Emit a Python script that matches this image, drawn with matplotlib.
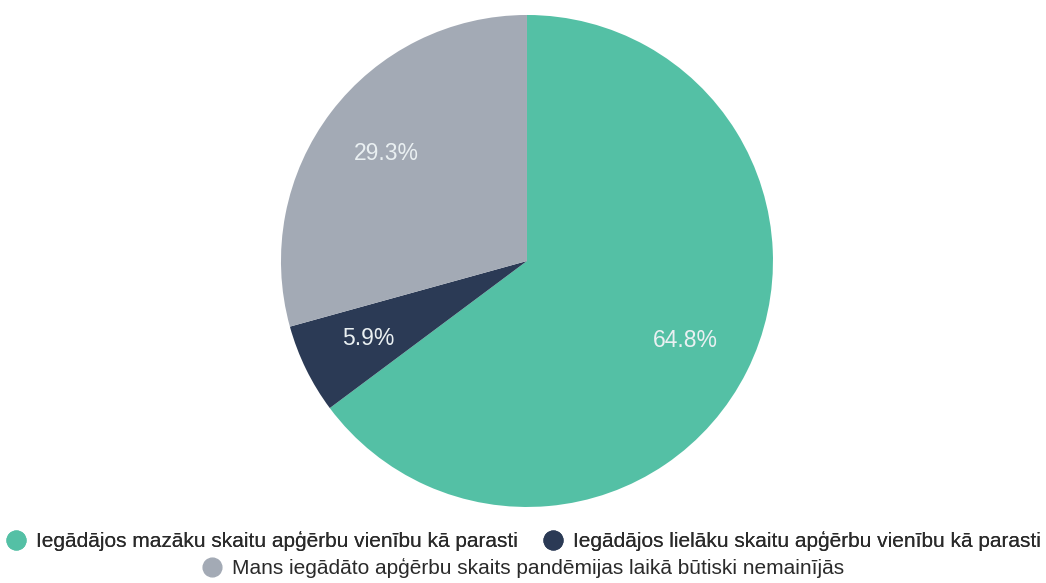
import matplotlib.pyplot as plt
from matplotlib.lines import Line2D

plt.rcParams['font.family'] = ['Liberation Sans', 'DejaVu Sans']

labels = [
    'Iegādājos mazāku skaitu apģērbu vienību kā parasti',
    'Iegādājos lielāku skaitu apģērbu vienību kā parasti',
    'Mans iegādāto apģērbu skaits pandēmijas laikā būtiski nemainījās',
]
shares = [64.8, 5.9, 29.3]
colors = ['#54c0a5', '#2b3a55', '#a3aab5']

fig = plt.figure(figsize=(10.46, 5.83), dpi=100)
ax = fig.add_axes([0.2686, 0.1304, 0.4704, 0.8439])

ax.pie(shares, colors=colors, startangle=90, counterclock=False,
       autopct='%.1f%%', pctdistance=0.72,
       textprops={'color': '#eaf0f2', 'fontsize': 16.5})
ax.set_xlim(-1, 1)
ax.set_ylim(-1, 1)
ax.set_aspect('equal')

def handle(c):
    return Line2D([], [], marker='o', linestyle='', markersize=13.5,
                  markerfacecolor=c, markeredgecolor=c)

leg1 = fig.legend([handle(colors[0]), handle(colors[1])], labels[:2],
                  loc='center', bbox_to_anchor=(0.5, 1 - 541 / 583), ncol=2,
                  frameon=False, fontsize=15, handletextpad=0.45,
                  columnspacing=1.2, handlelength=1.0, labelcolor='#2a2a2a')
fig.add_artist(leg1)
fig.legend([handle(colors[2])], labels[2:],
           loc='center', bbox_to_anchor=(0.5, 1 - 568 / 583),
           frameon=False, fontsize=15, handletextpad=0.45, handlelength=1.0,
           labelcolor='#2a2a2a')

fig.savefig('out.png', dpi=100)
